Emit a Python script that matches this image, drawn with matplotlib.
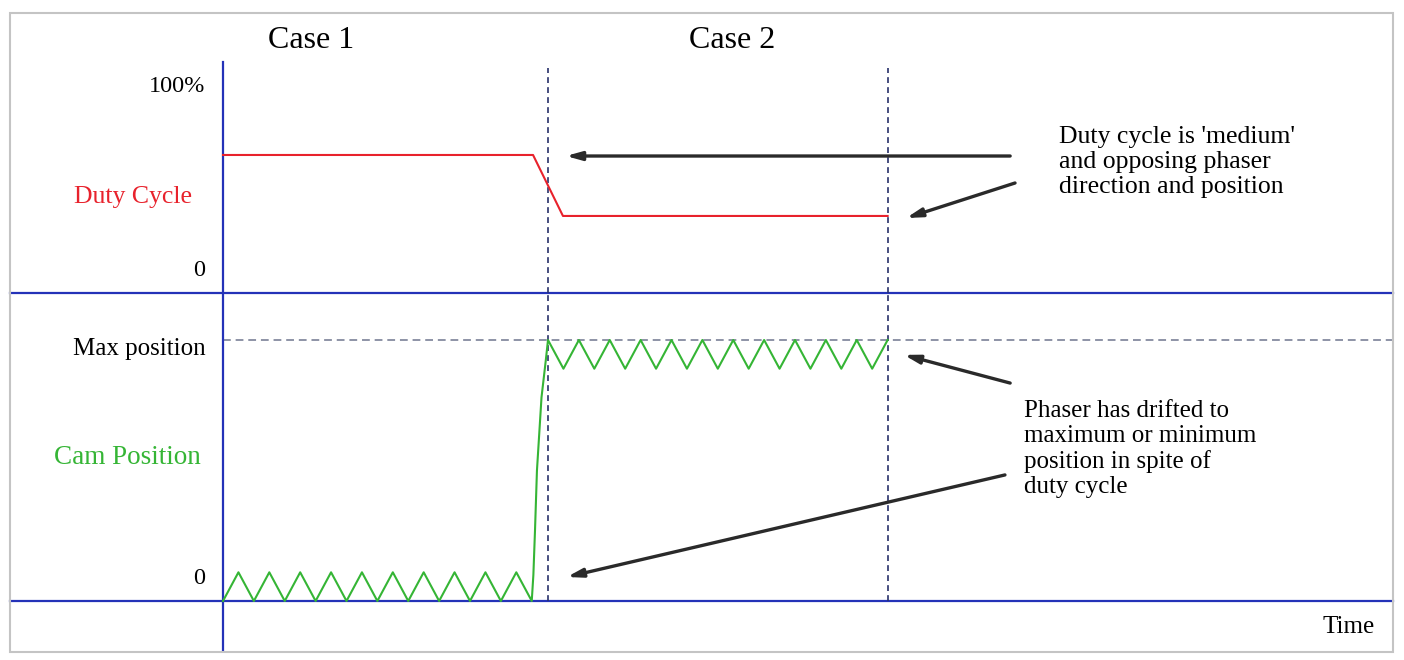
import matplotlib.pyplot as plt
from matplotlib.patches import Rectangle

# ============================
# DATA (time in arbitrary units, t=0 at the vertical axis)
# ============================
case_labels = ["Case 1", "Case 2"]
case_bounds = [10.0, 20.45]

# duty cycle [% of max]
duty_t = [0.0, 9.54, 10.46, 20.45]
duty_v = [67.0, 67.0, 37.4, 37.4]

# cam position [% of max position]
cam_t = [
    0.0, 0.475, 0.95, 1.425, 1.9, 2.375, 2.85, 3.325, 3.8, 4.275, 4.75,
    5.225, 5.7, 6.175, 6.65, 7.125, 7.6, 8.075, 8.55, 9.025, 9.5,
    9.55, 9.6, 9.66, 9.8, 9.93,
    10.0, 10.475, 10.95, 11.425, 11.9, 12.375, 12.85, 13.325, 13.8, 14.275,
    14.75, 15.225, 15.7, 16.175, 16.65, 17.125, 17.6, 18.075, 18.55, 19.025,
    19.5, 19.975, 20.45,
]
cam_v = [
    0, 11, 0, 11, 0, 11, 0, 11, 0, 11, 0,
    11, 0, 11, 0, 11, 0, 11, 0, 11, 0,
    10, 27, 50, 78, 92,
    100, 89, 100, 89, 100, 89, 100, 89, 100, 89,
    100, 89, 100, 89, 100, 89, 100, 89, 100, 89,
    100, 89, 100,
]
max_position = 100

note_duty = "Duty cycle is 'medium'\nand opposing phaser\ndirection and position"
note_cam = "Phaser has drifted to\nmaximum or minimum\nposition in spite of\nduty cycle"

# arrows: (tail_t, tail_v) -> (tip_t, tip_v)
duty_arrows = [((24.22, 66.5), (10.55, 66.5)), ((24.37, 53.4), (21.02, 36.4))]
cam_arrows = [((24.22, 83.5), (20.95, 94.3)), ((24.06, 48.3), (10.58, 9.2))]

# ============================
# STYLE
# ============================
W, H = 1404, 660
FONT = "Liberation Serif"
BLUE = "#2432b8"
NAVY = "#27306a"
RED = "#e8222c"
GREEN = "#35b535"
GREY_DASH = "#8d93a6"

T_LEFT, T_RIGHT = -223 / 32.5, (W - 223) / 32.5
LINE_L, LINE_R = -6.55, 36.0

plt.rcParams["font.family"] = [FONT, "DejaVu Serif"]

fig = plt.figure(figsize=(W / 100, H / 100), dpi=100)
fig.patch.set_facecolor("white")

# top panel: y px 0..293, 0% at 293, 100% at 87
ax1 = fig.add_axes([0, 1 - 293 / H, 1, 293 / H])
ax1.set_xlim(T_LEFT, T_RIGHT)
ax1.set_ylim(0, 293 / 2.06)
ax1.axis("off")

# bottom panel: y px 293..660, 0 at 601, max at 340
ax2 = fig.add_axes([0, 0, 1, 367 / H])
ax2.set_xlim(T_LEFT, T_RIGHT)
ax2.set_ylim(-59 / 2.61, 308 / 2.61)
ax2.axis("off")

# frame lines
ax1.plot([LINE_L, LINE_R], [0, 0], color=BLUE, lw=1.6, clip_on=False)
ax2.plot([LINE_L, LINE_R], [0, 0], color=BLUE, lw=1.6, clip_on=False)
ax1.plot([0, 0], [0, 112], color=BLUE, lw=1.6)
ax2.plot([0, 0], [-18.8, 118], color=BLUE, lw=1.6)

for tb in case_bounds:
    ax1.plot([tb, tb], [0, 109], color=NAVY, lw=1.2, dashes=(3.5, 2.5))
    ax2.plot([tb, tb], [0, 118], color=NAVY, lw=1.2, dashes=(3.5, 2.5))

ax2.plot([0, LINE_R], [max_position, max_position], color=GREY_DASH, lw=1.4,
         dashes=(4, 2.5), zorder=1)

# series
ax1.plot(duty_t, duty_v, color=RED, lw=1.5, zorder=3)
ax2.plot(cam_t, cam_v, color=GREEN, lw=1.5, zorder=3)

# arrows
for ax, arrows in [(ax1, duty_arrows), (ax2, cam_arrows)]:
    for tail, tip in arrows:
        ax.annotate("", xy=tip, xytext=tail,
                    arrowprops=dict(arrowstyle="-|>,head_length=0.9,head_width=0.25",
                                    color="#2a2a2a", lw=2.4, shrinkA=0, shrinkB=0))


def ftext(x, y, s, **kw):
    fig.text(x / W, 1 - y / H, s, **kw)


# labels
ftext(311, 40, case_labels[0], ha="center", va="center", fontsize=23)
ftext(732, 40, case_labels[1], ha="center", va="center", fontsize=23)
ftext(205, 87, "100%", ha="right", va="center", fontsize=17.5)
ftext(192, 197, "Duty Cycle", ha="right", va="center", fontsize=18.5, color=RED)
ftext(205, 270, "0", ha="right", va="center", fontsize=17.5)
ftext(206, 349, "Max position", ha="right", va="center", fontsize=18)
ftext(201, 458, "Cam Position", ha="right", va="center", fontsize=19.5, color=GREEN)
ftext(205, 578, "0", ha="right", va="center", fontsize=17.5)
ftext(1375, 627, "Time", ha="right", va="center", fontsize=18)

ftext(1059, 162, note_duty, ha="left", va="center", fontsize=18.5, linespacing=1.19)
ftext(1024, 449, note_cam, ha="left", va="center", fontsize=18, linespacing=1.18)

# outer border
fig.add_artist(Rectangle((10 / W, 1 - 652 / H), 1383 / W, 639 / H,
                         transform=fig.transFigure, fill=False,
                         edgecolor="#c4c4c4", lw=1.5))

fig.savefig("out.png", dpi=100)
